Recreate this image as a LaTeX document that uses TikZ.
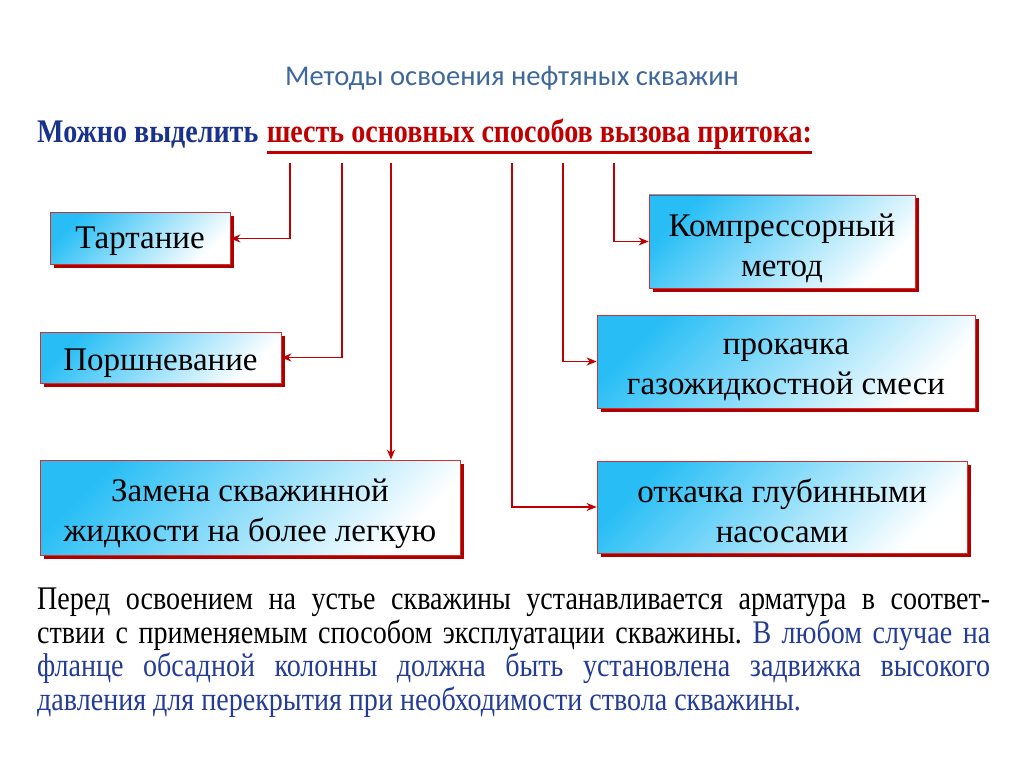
\documentclass[tikz,border=0pt]{standalone}
\usepackage{fontspec}
\setmainfont{Liberation Serif}
\newfontfamily\cond[FakeStretch=0.85]{Liberation Serif}
\newfontfamily\titlefont{Carlito}
\usetikzlibrary{shadows,arrows.meta}
\definecolor{tblue}{RGB}{62,104,156}
\definecolor{hblue}{RGB}{25,50,140}
\definecolor{hred}{RGB}{192,0,0}
\definecolor{pblue}{RGB}{35,60,150}
\definecolor{cy}{RGB}{40,190,245}
\definecolor{lred}{RGB}{205,50,50}
\definecolor{sred}{RGB}{175,0,0}
\begin{document}
\begin{tikzpicture}[x=1pt,y=1pt,
  box/.style={draw=lred, line width=0.8pt, top color=cy, bottom color=white,
    middle color=cy!50!white, shading angle=45,
    general shadow={fill=sred, shadow xshift=3.5pt, shadow yshift=-3.5pt},
    inner sep=0pt},
  boxtext/.style={align=center, inner sep=0pt, font=\fontsize{33}{40}\selectfont},
  link/.style={draw=hred, line width=1.8pt, -{Stealth[length=10pt,width=8pt]}}]
\useasboundingbox[fill=white] (0,-767) rectangle (1024,0);

\node[font=\titlefont\fontsize{28.6}{30}\selectfont, text=tblue] (title) at (512,-78) {Методы освоения нефтяных скважин};

\node[anchor=base west, inner sep=0pt, font=\cond\bfseries\fontsize{33}{36}\selectfont, text=hblue] (h1) at (37,-143) {Можно выделить};
\node[anchor=base west, inner sep=0pt, font=\cond\bfseries\fontsize{33}{36}\selectfont, text=hred] (h2) at ([xshift=8pt]h1.base east) {шесть основных способов вызова притока:};
\draw[hred, line width=2.8pt] ([yshift=-2pt]h2.south west) -- ([yshift=-2pt]h2.south east);

\node[box, minimum width=180pt, minimum height=52pt] (tart) at (140,-238.5) {};
\node[box, minimum width=241pt, minimum height=51pt] (porsh) at (160.5,-357.5) {};
\node[box, minimum width=420pt, minimum height=95pt] (zam) at (250,-507.5) {};
\node[box, minimum width=266pt, minimum height=93pt] (komp) at (782,-241.5) {};
\node[box, minimum width=378pt, minimum height=93pt] (prok) at (786,-361.5) {};
\node[box, minimum width=370pt, minimum height=92pt] (otk) at (782,-507) {};

\node[boxtext] (tart-t) at ([yshift=-3pt]tart.center) {Тартание};
\node[boxtext] (porsh-t) at ([yshift=-6pt]porsh.center) {Поршневание};
\node[boxtext] (zam-t) at ([yshift=-6pt]zam.center) {Замена скважинной\\жидкости на более легкую};
\node[boxtext] (komp-t) at ([yshift=-7pt]komp.center) {Компрессорный\\метод};
\node[boxtext] (prok-t) at ([yshift=-8pt]prok.center) {прокачка\\газожидкостной смеси};
\node[boxtext] (otk-t) at ([yshift=-4pt]otk.center) {откачка глубинными\\насосами};

\coordinate (s1) at (290,-163);
\coordinate (s2) at (342,-163);
\coordinate (s3) at (391,-163);
\coordinate (s4) at (512,-163);
\coordinate (s5) at (563,-163);
\coordinate (s6) at (614,-163);
\draw[link] (s1) |- (tart.east);
\draw[link] (s2) |- (porsh.east);
\draw[link] (s3) -- (s3 |- zam.north);
\draw[link] (s4) |- (otk.west);
\draw[link] (s5) |- (prok.west);
\draw[link] (s6) |- (komp.west);

\node[anchor=north west, inner sep=0pt, text width=953pt, align=justify,
  font=\cond\fontsize{33}{33.5}\selectfont] (para) at (37,-588)
  {\frenchspacing Перед освоением на устье скважины устанавливается арматура в соответ-\linebreak
   ствии с применяемым способом эксплуатации скважины. \textcolor{pblue}{В любом случае на\linebreak
   фланце обсадной колонны должна быть установлена задвижка высокого\linebreak
   давления для перекрытия при необходимости ствола скважины.}};
\end{tikzpicture}
\end{document}
